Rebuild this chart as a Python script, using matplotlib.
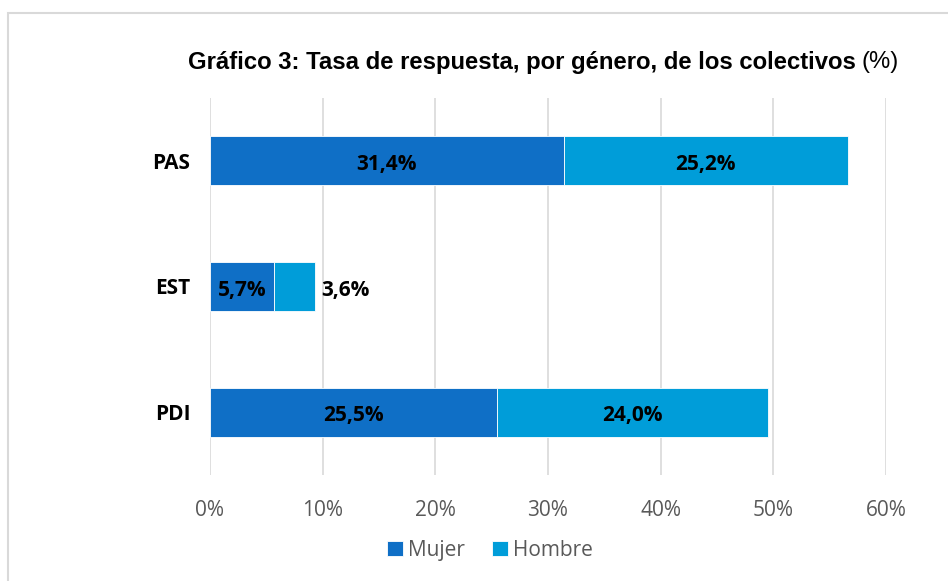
import matplotlib.pyplot as plt
import numpy as np
from matplotlib.patches import Rectangle

categories = ['PDI', 'EST', 'PAS']
mujer = [25.5, 5.7, 31.4]
hombre = [24.0, 3.6, 25.2]
mujer_lbl = ['25,5%', '5,7%', '31,4%']
hombre_lbl = ['24,0%', '3,6%', '25,2%']
xticks = [0, 10, 20, 30, 40, 50, 60]

c_muj = '#0F6FC6'
c_hom = '#009DD9'

fig = plt.figure(figsize=(9.48, 5.81), dpi=100)
ax = fig.add_axes([210/948, 1-475/581, 676/948, 377/581])

# outer chart border
fig.patches.append(Rectangle((8/948, -0.05), 1.0, 1-13/581+0.05, transform=fig.transFigure,
                             fill=False, edgecolor='#D9D9D9', linewidth=1.5))

y = np.arange(len(categories))
h = 0.39
ax.barh(y, mujer, height=h, color=c_muj, edgecolor='white', linewidth=0.6, label='Mujer', zorder=3)
ax.barh(y, hombre, left=mujer, height=h, color=c_hom, edgecolor='white', linewidth=0.6, label='Hombre', zorder=3)

lblfont = dict(family='Open Sans', fontsize=15, fontweight='bold', color='black')
dy = -0.03  # labels sit a touch below bar centre
for i in range(len(categories)):
    ax.text(mujer[i]/2, y[i]+dy, mujer_lbl[i], ha='center', va='center', zorder=4, **lblfont)
    if hombre[i] < 8:
        ax.text(mujer[i]+hombre[i]+0.6, y[i]+dy, hombre_lbl[i], ha='left', va='center', zorder=4, **lblfont)
    else:
        ax.text(mujer[i]+hombre[i]/2, y[i]+dy, hombre_lbl[i], ha='center', va='center', zorder=4, **lblfont)

ax.set_xlim(0, 60)
ax.set_ylim(-0.5, 2.5)
ax.set_xticks(xticks)
ax.set_xticklabels([f'{v}%' for v in xticks], family='Open Sans', fontsize=15, color='#595959')
ax.set_yticks(y)
ax.set_yticklabels(categories, family='Open Sans', fontsize=15, fontweight='bold', color='black')
ax.tick_params(axis='x', length=0, pad=18)
ax.tick_params(axis='y', length=0, pad=14)
ax.grid(axis='x', color='#D9D9D9', linewidth=1.2, zorder=0)
for s in ax.spines.values():
    s.set_visible(False)

t1 = fig.text(188/948, 1-62/581, 'Gráfico 3: Tasa de respuesta, por género, de los colectivos',
              family='Liberation Sans', fontsize=17.2, fontweight='bold', va='center', ha='left')
fig.canvas.draw()
bb = t1.get_window_extent()
fig.text((bb.x1 + 6)/948, 1-62/581, '(%)', family='Liberation Sans', fontsize=17.2,
         va='center', ha='left')

ax.legend(loc='center', bbox_to_anchor=(0.414, -0.2), ncol=2, frameon=False,
          prop={'family': 'Open Sans', 'size': 15}, labelcolor='#595959',
          handlelength=0.75, handleheight=0.75, handletextpad=0.25, columnspacing=1.3)

fig.savefig('out.png', dpi=100)
